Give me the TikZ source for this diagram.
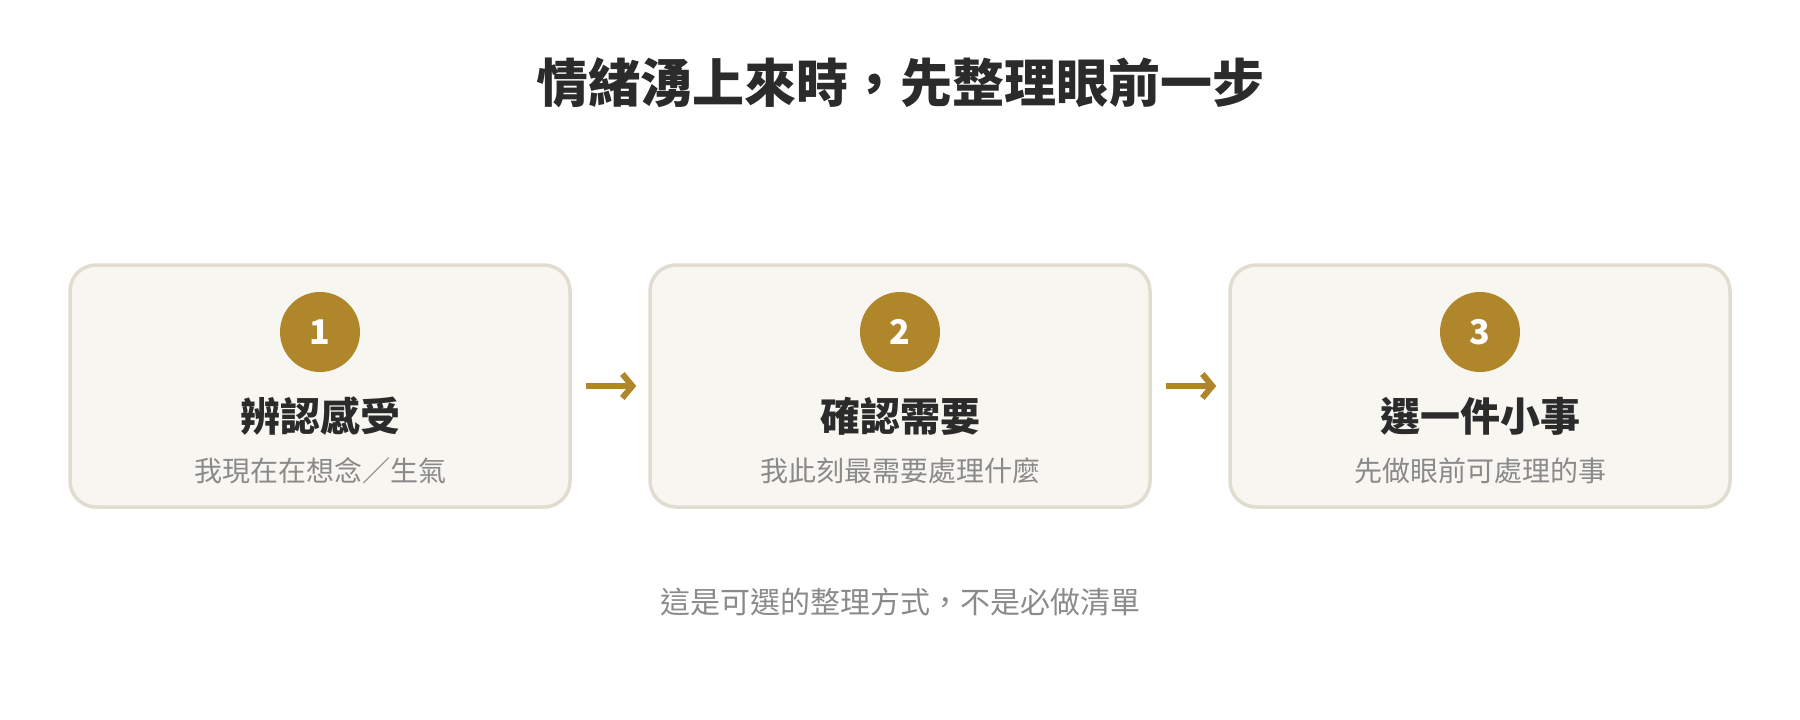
\documentclass[tikz,border=0pt]{standalone}
\usepackage{fontspec}
\setmainfont{Noto Sans CJK TC}
\newfontfamily\cjk{Noto Sans CJK TC}
\usetikzlibrary{arrows.meta}
\definecolor{gold}{HTML}{B0862B}
\definecolor{boxfill}{HTML}{F8F6F0}
\definecolor{boxline}{HTML}{E0DCD0}
\definecolor{ink}{HTML}{2B2B2B}
\definecolor{soft}{HTML}{8A8A8A}
\tikzset{
  x=1pt,y=-1pt,
  card/.style={draw=boxline, fill=boxfill, line width=3.5pt, rounded corners=26pt,
    minimum width=500pt, minimum height=242pt, inner sep=0pt},
  badge/.style={circle, fill=gold, minimum size=80pt, inner sep=0pt,
    text=white, font=\cjk\bfseries\fontsize{34}{40}\selectfont},
  cardtitle/.style={text=ink, font=\cjk\bfseries\fontsize{40}{48}\selectfont, inner sep=0pt},
  cardsub/.style={text=soft, font=\cjk\fontsize{28}{34}\selectfont, inner sep=0pt},
  flow/.style={draw=gold, line width=6pt, -{Straight Barb[length=10pt,width=24pt,line width=6pt]},
    shorten <=14pt, shorten >=12pt},
}
\begin{document}
\begin{tikzpicture}
\useasboundingbox (0,0) rectangle (1800,720);
\node[text=ink, font=\cjk\bfseries\fontsize{52}{60}\selectfont, inner sep=0pt] (title) at (900,83) {情緒湧上來時，先整理眼前一步};

\node[card] (c1) at (320,386) {};
\node[card] (c2) at (900,386) {};
\node[card] (c3) at (1480,386) {};

\node[badge] (b1) at (320,332) {1};
\node[badge] (b2) at (900,332) {2};
\node[badge] (b3) at (1480,332) {3};

\node[cardtitle] (t1) at (320,416) {辨認感受};
\node[cardtitle] (t2) at (900,416) {確認需要};
\node[cardtitle] (t3) at (1480,416) {選一件小事};

\node[cardsub] (s1) at (320,471) {我現在在想念／生氣};
\node[cardsub] (s2) at (900,471) {我此刻最需要處理什麼};
\node[cardsub] (s3) at (1480,471) {先做眼前可處理的事};

\draw[flow] (c1.east) -- (c2.west);
\draw[flow] (c2.east) -- (c3.west);

\node[text=soft, font=\cjk\fontsize{30}{36}\selectfont, inner sep=0pt] (foot) at (900,602) {這是可選的整理方式，不是必做清單};
\end{tikzpicture}
\end{document}
